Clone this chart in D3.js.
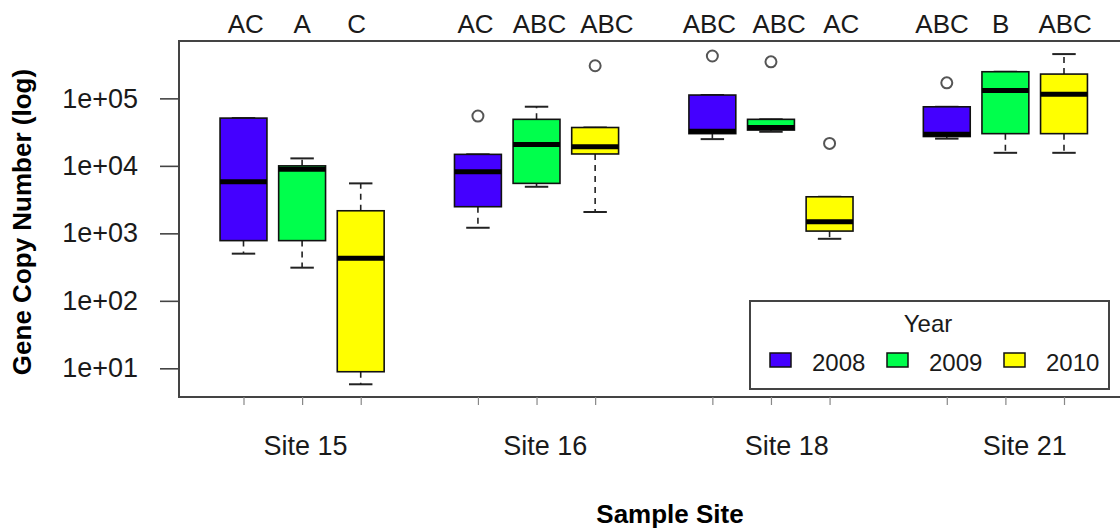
<!DOCTYPE html>
<html><head><meta charset="utf-8">
<script src="https://cdn.jsdelivr.net/npm/d3@7"></script>
<style>body{margin:0;background:#fff;}svg{display:block;font-family:"Liberation Sans",Arial,sans-serif;}</style>
</head><body>
<svg id="chart" width="1120" height="531"></svg>
<script>
// ---- data ----
const sites = ["Site 15", "Site 16", "Site 18", "Site 21"];
const years = ["2008", "2009", "2010"];
const yearColors = ["#4400ff", "#00ff4c", "#ffff00"];
// box statistics, order: site-major, then year (2008, 2009, 2010)
const lowWhisker  = [500, 310, 5.8,   1210, 4900, 2070,   24900, 32000, 830,   25300, 15600, 15600];
const lowerQuart  = [780, 780, 8.9,   2480, 5500, 15000,  30000, 33900, 1080,  27200, 30000, 30000];
const medians     = [5800, 8900, 427, 8200, 20800, 19200, 32500, 36900, 1480,  29500, 131000, 115000];
const upperQuart  = [51000, 10000, 2160, 14800, 48900, 37000, 112000, 48900, 3480, 75000, 248000, 229000];
const highWhisker = [51000, 12900, 5500, 14800, 75200, 37000, 112000, 48900, 3480, 75000, 248000, 453000];
const outliers    = [[], [], [], [54700], [], [304000], [424000], [348000], [21500], [170000], [], []];
const letters     = ["AC", "A", "C", "AC", "ABC", "ABC", "ABC", "ABC", "AC", "ABC", "B", "ABC"];
const letterSlots = [1.04, 2.0, 2.93, 4.96, 6.05, 7.2, 8.95, 10.14, 11.2, 12.92, 13.92, 15.02];
const yTicks = [1e1, 1e2, 1e3, 1e4, 1e5];
const siteLabelSlots = [2.06, 6.15, 10.27, 14.33];

(function () {
// ---- layout ----
const svg = d3.select("#chart");
const pLeft = 179, pTop = 41, pBottom = 397, pRight = 1130;
const y = d3.scaleLog().domain([Math.pow(10, 0.575), Math.pow(10, 5.85)]).range([pBottom, pTop]);
const x = d3.scaleLinear().domain([1, 15]).range([243.5, 1064]);
const slotW = x(2) - x(1);
const boxW = slotW * 0.8;
const txt = "#1a1a1a";

svg.append("rect").attr("width", 1120).attr("height", 531).attr("fill", "#fff");

const boxes = [];
for (let s = 0; s < sites.length; s++) {
  for (let k = 0; k < years.length; k++) {
    const i = s * 3 + k;
    boxes.push({i, slot: s * 4 + k + 1, year: k, lw: lowWhisker[i], q1: lowerQuart[i], med: medians[i],
      q3: upperQuart[i], hw: highWhisker[i], out: outliers[i], letter: letters[i], lslot: letterSlots[i]});
  }
}

const g = svg.append("g");
boxes.forEach(b => {
  const cx = x(b.slot);
  g.append("line").attr("x1", cx).attr("x2", cx).attr("y1", y(b.q3)).attr("y2", y(b.hw))
    .attr("stroke", "#222").attr("stroke-width", 1.6).attr("stroke-dasharray", "6,5");
  g.append("line").attr("x1", cx).attr("x2", cx).attr("y1", y(b.q1)).attr("y2", y(b.lw))
    .attr("stroke", "#222").attr("stroke-width", 1.6).attr("stroke-dasharray", "6,5");
  [b.hw, b.lw].forEach(v => {
    g.append("line").attr("x1", cx - boxW / 4).attr("x2", cx + boxW / 4).attr("y1", y(v)).attr("y2", y(v))
      .attr("stroke", "#222").attr("stroke-width", 2);
  });
  g.append("rect").attr("x", cx - boxW / 2).attr("width", boxW)
    .attr("y", y(b.q3)).attr("height", Math.max(0.5, y(b.q1) - y(b.q3)))
    .attr("fill", yearColors[b.year]).attr("stroke", "#111").attr("stroke-width", 1.6);
  g.append("line").attr("x1", cx - boxW / 2).attr("x2", cx + boxW / 2).attr("y1", y(b.med)).attr("y2", y(b.med))
    .attr("stroke", "#000").attr("stroke-width", 5);
  b.out.forEach(v => {
    g.append("circle").attr("cx", cx).attr("cy", y(v)).attr("r", 5.5)
      .attr("fill", "none").attr("stroke", "#555").attr("stroke-width", 2);
  });
  svg.append("text").attr("x", x(b.lslot)).attr("y", 33).attr("text-anchor", "middle")
    .attr("font-size", 26).attr("fill", txt).text(b.letter);
});

svg.append("rect").attr("x", pLeft).attr("y", pTop).attr("width", pRight - pLeft).attr("height", pBottom - pTop)
  .attr("fill", "none").attr("stroke", "#444").attr("stroke-width", 2);

const yAxis = svg.append("g").attr("transform", `translate(${pLeft},0)`)
  .call(d3.axisLeft(y).tickValues(yTicks).tickSize(19).tickPadding(22)
    .tickFormat(d => "1e+" + String(Math.round(Math.log10(d))).padStart(2, "0")));
yAxis.select(".domain").remove();
yAxis.selectAll(".tick line").attr("stroke", "#444").attr("stroke-width", 1.6);
yAxis.selectAll(".tick text").attr("font-size", 27).attr("fill", txt).attr("font-family", "Liberation Sans, Arial, sans-serif");

const xAxis = svg.append("g").attr("transform", `translate(0,${pBottom})`)
  .call(d3.axisBottom(x).tickValues(boxes.map(b => b.slot)).tickSize(8).tickFormat(""));
xAxis.select(".domain").remove();
xAxis.selectAll(".tick line").attr("stroke", "#888").attr("stroke-width", 1.2);

svg.selectAll(".site").data(sites).enter().append("text")
  .attr("x", (d, i) => x(siteLabelSlots[i])).attr("y", 455).attr("text-anchor", "middle")
  .attr("font-size", 27).attr("fill", txt).text(d => d);

svg.append("text").attr("x", 670).attr("y", 523).attr("text-anchor", "middle")
  .attr("font-size", 26).attr("font-weight", "bold").attr("fill", "#000").text("Sample Site");
svg.append("text").attr("transform", "translate(31,222) rotate(-90)").attr("text-anchor", "middle")
  .attr("font-size", 26).attr("font-weight", "bold").attr("fill", "#000").text("Gene Copy Number (log)");

const lg = svg.append("g");
lg.append("rect").attr("x", 750).attr("y", 301).attr("width", 359).attr("height", 88)
  .attr("fill", "#fff").attr("stroke", "#444").attr("stroke-width", 2);
lg.append("text").attr("x", 928).attr("y", 332).attr("text-anchor", "middle")
  .attr("font-size", 24).attr("fill", txt).text("Year");
const legX = [770, 887, 1004];
years.forEach((yr, k) => {
  lg.append("rect").attr("x", legX[k]).attr("y", 353).attr("width", 21).attr("height", 14)
    .attr("fill", yearColors[k]).attr("stroke", "#111").attr("stroke-width", 1.5);
  lg.append("text").attr("x", legX[k] + 42).attr("y", 371).attr("font-size", 24).attr("fill", txt).text(yr);
});
})();
</script>
</body></html>
